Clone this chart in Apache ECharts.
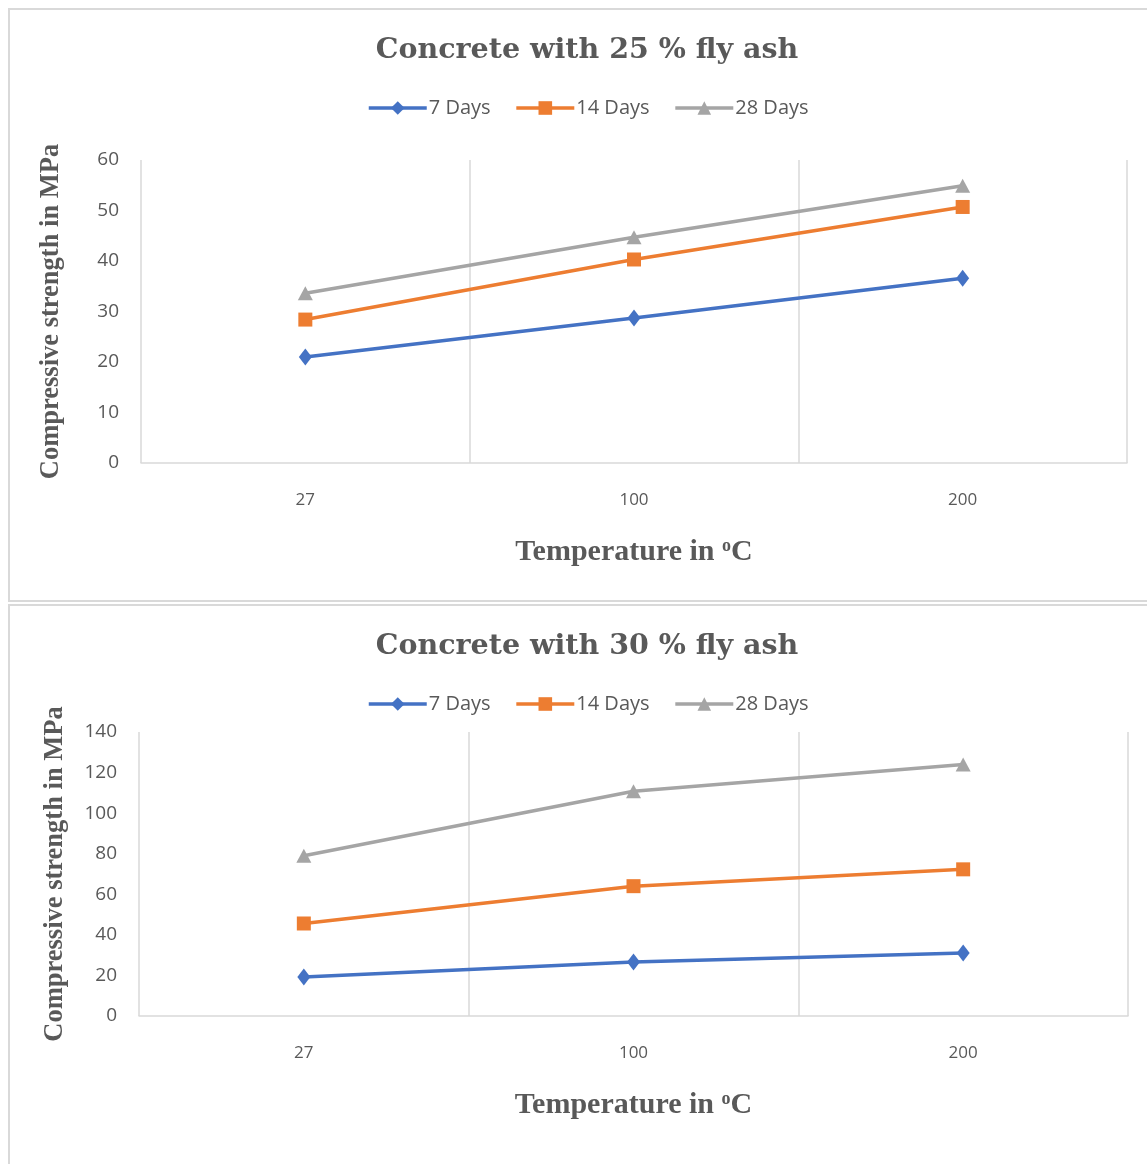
<!DOCTYPE html>
<html>
<head>
<meta charset="utf-8">
<title>Compressive strength of fly ash concrete</title>
<script src="https://cdn.jsdelivr.net/npm/echarts@6/dist/echarts.min.js"></script>
<style>
  html, body { margin: 0; padding: 0; background: #fff; }
  #chart { width: 1147px; height: 1164px; }
</style>
</head>
<body>
<div id="chart"></div>
<script>
// temperatures on the x axis
var temps = ["27", "100", "200"];
var seriesNames = ["7 Days", "14 Days", "28 Days"];

// concrete with 25 % fly ash (MPa)
var ash25Day7 = [21.0, 28.7, 36.6];
var ash25Day14 = [28.4, 40.3, 50.7];
var ash25Day28 = [33.6, 44.7, 54.9];

// concrete with 30 % fly ash (MPa)
var ash30Day7 = [19.2, 26.6, 31.0];
var ash30Day14 = [45.6, 64.0, 72.3];
var ash30Day28 = [79.0, 110.8, 124.0];

var colors = ["#4472C4", "#ED7D31", "#A5A5A5"];
var symbols = ["diamond", "rect", "triangle"];
var symbolSizes = [[13, 17], 14, [15, 14]];
var textGray = "#595959";
var lineGray = "#d9d9d9";

function makeSeries(data, idx, axisIdx) {
  return {
    name: seriesNames[idx],
    type: "line",
    xAxisIndex: axisIdx,
    yAxisIndex: axisIdx,
    data: data,
    symbol: symbols[idx],
    symbolSize: symbolSizes[idx],
    showAllSymbol: true,
    lineStyle: { color: colors[idx], width: 3.5 },
    itemStyle: { color: colors[idx] },
  };
}

function makeXAxis(gridIdx) {
  return {
    type: "category",
    gridIndex: gridIdx,
    data: temps,
    boundaryGap: true,
    axisLine: { show: true, lineStyle: { color: lineGray, width: 1.5 } },
    axisTick: { show: false },
    splitLine: { show: true, lineStyle: { color: lineGray, width: 1.5 } },
    axisLabel: { color: textGray, fontFamily: "Open Sans", fontSize: 17, margin: 29 },
    name: "Temperature in {sup|o}C",
    nameLocation: "middle",
    nameGap: 74,
    nameTextStyle: {
      color: textGray,
      fontFamily: "Liberation Serif",
      fontWeight: "bold",
      fontSize: 30,
      rich: {
        sup: {
          color: textGray,
          fontFamily: "Liberation Serif",
          fontWeight: "bold",
          fontSize: 18,
          padding: [0, 0, 13, 0],
        },
      },
    },
  };
}

function makeYAxis(gridIdx, max, interval, gap) {
  return {
    type: "value",
    gridIndex: gridIdx,
    min: 0,
    max: max,
    interval: interval,
    axisLine: { show: false },
    axisTick: { show: false },
    splitLine: { show: false },
    axisLabel: { color: textGray, fontFamily: "Open Sans", fontSize: 19, margin: 22 },
    name: "Compressive strength in MPa",
    nameLocation: "middle",
    nameGap: gap,
    nameTextStyle: {
      color: textGray,
      fontFamily: "Liberation Serif",
      fontWeight: "bold",
      fontSize: 26.5,
    },
  };
}

function makeLegend(top) {
  return {
    top: top,
    left: 362,
    itemWidth: 58,
    itemHeight: 17,
    itemGap: 24,
    lineStyle: { width: 3.5 },
    textStyle: { color: textGray, fontFamily: "Open Sans", fontSize: 20, padding: [0, 0, 0, -3] },
    data: seriesNames,
  };
}

var chart = echarts.init(document.getElementById("chart"));
var option = {
  animation: false,
  backgroundColor: "#fff",
  title: [
    {
      text: "Concrete with 25 % fly ash",
      left: 582,
      top: 31,
      textAlign: "center",
      textStyle: { color: textGray, fontFamily: "DejaVu Serif", fontWeight: "bold", fontSize: 28.5 },
    },
    {
      text: "Concrete with 30 % fly ash",
      left: 582,
      top: 627,
      textAlign: "center",
      textStyle: { color: textGray, fontFamily: "DejaVu Serif", fontWeight: "bold", fontSize: 28.5 },
    },
  ],
  legend: [makeLegend(93), makeLegend(689)],
  grid: [
    { left: 141, right: 20, top: 160, bottom: 701, containLabel: false, outerBoundsMode: "none" },
    { left: 139, right: 19, top: 732, bottom: 148, containLabel: false, outerBoundsMode: "none" },
  ],
  xAxis: [makeXAxis(0), makeXAxis(1)],
  yAxis: [makeYAxis(0, 60, 10, 76), makeYAxis(1, 140, 20, 70)],
  series: [
    makeSeries(ash25Day7, 0, 0),
    makeSeries(ash25Day14, 1, 0),
    makeSeries(ash25Day28, 2, 0),
    makeSeries(ash30Day7, 0, 1),
    makeSeries(ash30Day14, 1, 1),
    makeSeries(ash30Day28, 2, 1),
  ],
  // chart area borders, like the two stacked Excel charts
  graphic: [
    { type: "rect", shape: { x: 9, y: 9, width: 1160, height: 592 }, style: { fill: null, stroke: lineGray, lineWidth: 2 }, silent: true, z: -1 },
    { type: "rect", shape: { x: 9, y: 605, width: 1160, height: 600 }, style: { fill: null, stroke: lineGray, lineWidth: 2 }, silent: true, z: -1 },
  ],
};
chart.setOption(option);
</script>
</body>
</html>
